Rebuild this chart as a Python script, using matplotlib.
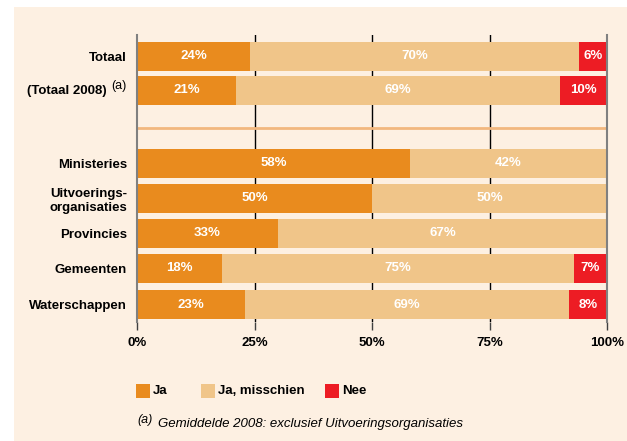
import matplotlib
matplotlib.use("Agg")
import matplotlib.pyplot as plt
from matplotlib.patches import Rectangle

# ---- data ----
categories = ["Totaal", "(Totaal 2008)", "Ministeries", "Uitvoerings-\norganisaties",
              "Provincies", "Gemeenten", "Waterschappen"]
ja = [24, 21, 58, 50, 30, 18, 23]
ja_misschien = [70, 69, 42, 50, 70, 75, 69]
nee = [6, 10, 0, 0, 0, 7, 8]
ja_labels = ["24%", "21%", "58%", "50%", "33%", "18%", "23%"]
misschien_labels = ["70%", "69%", "42%", "50%", "67%", "75%", "69%"]
nee_labels = ["6%", "10%", "", "", "", "7%", "8%"]
series_names = ["Ja", "Ja, misschien", "Nee"]
xticks = [0, 25, 50, 75, 100]
xtick_labels = ["0%", "25%", "50%", "75%", "100%"]
footnote = "Gemiddelde 2008: exclusief Uitvoeringsorganisaties"

# ---- style ----
C_JA = "#E98B1E"
C_MIS = "#F0C589"
C_NEE = "#ED1C24"
BG = "#FDF0E2"
FONT = "Liberation Sans"
plt.rcParams["font.family"] = [FONT, "DejaVu Sans"]

W, H = 627, 441
fig = plt.figure(figsize=(W / 100, H / 100), dpi=100)
fig.patch.set_facecolor("white")
fig.patches.append(Rectangle((14 / W, 0), 1 - 14 / W, 1 - 7 / H,
                             transform=fig.transFigure, facecolor=BG,
                             edgecolor="none", zorder=-10))

ax = fig.add_axes([137 / W, 1 - 322 / H, 470 / W, (322 - 35) / H])
ax.set_facecolor("none")
ax.set_zorder(5)

ypos = [0, 0.97, 3.05, 4.06, 5.06, 6.06, 7.09]
h = 0.83

b1 = ax.barh(ypos, ja, height=h, color=C_JA, zorder=3)
left2 = ja
b2 = ax.barh(ypos, ja_misschien, left=left2, height=h, color=C_MIS, zorder=3)
left3 = [a + b for a, b in zip(ja, ja_misschien)]
b3 = ax.barh(ypos, nee, left=left3, height=h, color=C_NEE, zorder=3)

lab_kw = dict(ha="center", va="center", color="white", fontsize=9.5,
              fontweight="bold", zorder=5)
for y, v, l in zip(ypos, ja, ja_labels):
    ax.text(v / 2, y, l, **lab_kw)
for y, s, v, l in zip(ypos, ja, ja_misschien, misschien_labels):
    ax.text(s + v / 2, y, l, **lab_kw)
for y, s, v, l in zip(ypos, left3, nee, nee_labels):
    if v > 0:
        ax.text(s + v / 2, y, l, **lab_kw)

ax.set_xlim(0, 100)
ax.set_ylim(7.59, -0.61)

# separator line
ax.axhline(2.04, color="#F2B77E", lw=2, zorder=2)

# gridlines
for x in [25, 50, 75]:
    ax.axvline(x, color="black", lw=1, zorder=1)

for s in ["top", "bottom"]:
    ax.spines[s].set_visible(False)
for s in ["left", "right"]:
    ax.spines[s].set_color("#808080")
    ax.spines[s].set_linewidth(1.5)
    ax.spines[s].set_zorder(6)

ax.set_xticks(xticks)
ax.set_xticklabels(xtick_labels, fontsize=9.5, fontweight="bold")
ax.tick_params(axis="x", length=6, width=1, color="#404040", pad=4.5, direction="out")

ax.set_yticks(ypos)
ylabels = list(categories)
ylabels[1] = ""
ax.set_yticklabels(ylabels, fontsize=9.5, fontweight="bold", linespacing=1.25)
ax.tick_params(axis="y", length=0, pad=7.2)

# (Totaal 2008) with superscript (a)
ax.annotate("(a)", xy=(0, ypos[1]), xycoords=("axes fraction", "data"),
            xytext=(-11, -2), textcoords="offset pixels", ha="right", va="bottom",
            fontsize=9, fontweight="normal")
ax.annotate(categories[1], xy=(0, ypos[1]), xycoords=("axes fraction", "data"),
            xytext=(-30, -1), textcoords="offset pixels", ha="right", va="center",
            fontsize=9.5, fontweight="bold")

# legend (manual)
leg_items = [(136, C_JA), (201, C_MIS), (325, C_NEE)]
for (x0, c), name in zip(leg_items, series_names):
    fig.patches.append(Rectangle((x0 / W, 1 - 398 / H), 14 / W, 14 / H,
                                 transform=fig.transFigure, facecolor=c,
                                 edgecolor="none", zorder=2))
    fig.text((x0 + 17) / W, 1 - 391 / H, name, ha="left", va="center",
             fontsize=9.5, fontweight="bold")

fig.text(137 / W, 1 - 420 / H, "(a)", ha="left", va="center",
         fontsize=9, style="italic")
fig.text(158 / W, 1 - 424 / H, footnote, ha="left", va="center",
         fontsize=9.5, style="italic")

fig.savefig("out.png", dpi=100, facecolor=fig.get_facecolor())
